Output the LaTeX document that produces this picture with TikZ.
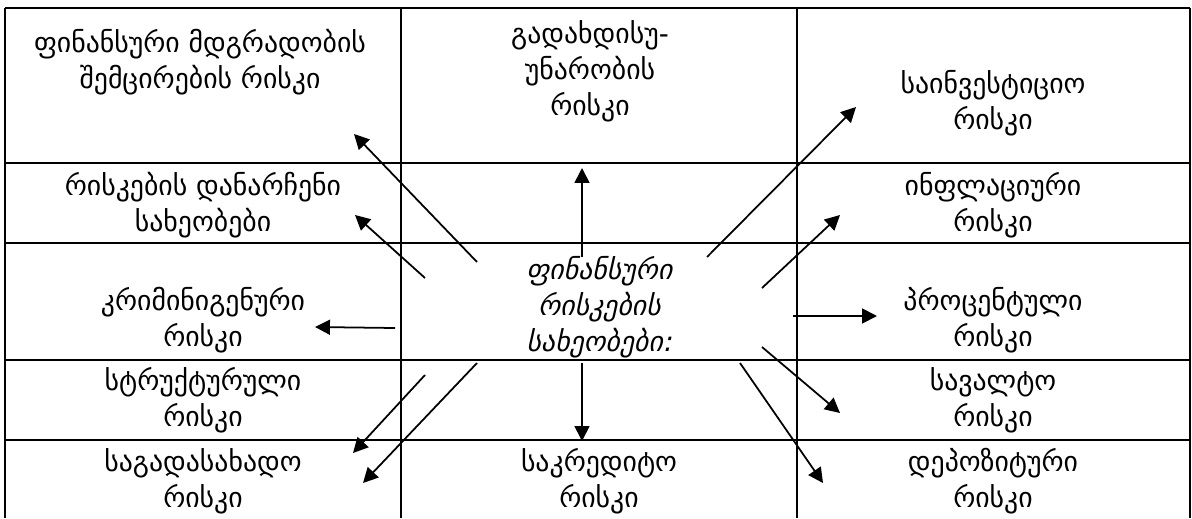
\documentclass[tikz,border=0pt]{standalone}
\usepackage{fontspec}
\setmainfont{DejaVu Sans}
\newfontfamily\geoslant[FakeSlant=0.22]{DejaVu Sans}
\usetikzlibrary{arrows.meta, positioning}
\tikzset{
  cell/.style={align=center, inner sep=0pt, font=\fontsize{15.8}{20.5}\selectfont},
  hub/.style={align=center, inner sep=0pt, font=\geoslant\fontsize{15.8}{20.5}\selectfont},
  rule/.style={line width=1.5pt},
  arrow/.style={line width=1pt, -{Triangle[length=8.5pt, width=8.5pt]}}
}

\begin{document}
\begin{tikzpicture}[x=0.02cm, y=-0.02cm]
  \useasboundingbox (0,0) rectangle (1192,518);

  % table
  \foreach \x in {5, 401, 797, 1190}
    \draw [rule] (\x,8) -- (\x,518);
  \foreach \y in {8, 163, 243, 360, 440}
    \draw [rule] (5,\y) -- (1190,\y);

  % cells
  \node (stab) [cell] at (200,62) {ფინანსური მდგრადობის\\შემცირების რისკი};
  \node (liq) [cell] at (590,71) {გადახდისუ-\\უნარობის\\რისკი};
  \node (inv) [cell] at (993,103) {საინვესტიციო\\რისკი};
  \node (other) [cell] at (203,205) {რისკების დანარჩენი\\სახეობები};
  \node (infl) [cell] at (993,205) {ინფლაციური\\რისკი};
  \node (types) [hub] at (599,307) {ფინანსური\\რისკების\\სახეობები:};
  \node (crim) [cell] at (203,320) {კრიმინიგენური\\რისკი};
  \node (rate) [cell] at (993,320) {პროცენტული\\რისკი};
  \node (struct) [cell] at (203,400) {სტრუქტურული\\რისკი};
  \node (curr) [cell] at (993,400) {სავალტო\\რისკი};
  \node (tax) [cell] at (203,481) {საგადასახადო\\რისკი};
  \node (cred) [cell] at (599,481) {საკრედიტო\\რისკი};
  \node (dep) [cell] at (993,481) {დეპოზიტური\\რისკი};

  % arrow ends
  \coordinate (stab-s) at (477,262);   \coordinate (stab-t) at (354,134);
  \coordinate (other-s) at (425,278);  \coordinate (other-t) at (355,215);
  \coordinate (liq-s) at (582,257);    \coordinate (liq-t) at (582,168);
  \coordinate (inv-s) at (707,257);    \coordinate (inv-t) at (856,107);
  \coordinate (infl-s) at (762,288);   \coordinate (infl-t) at (840,215);
  \coordinate (rate-s) at (793,316);   \coordinate (rate-t) at (877,316);
  \coordinate (curr-s) at (762,347);   \coordinate (curr-t) at (840,413);
  \coordinate (dep-s) at (740,363);    \coordinate (dep-t) at (823,483);
  \coordinate (cred-s) at (582,363);   \coordinate (cred-t) at (582,441);
  \coordinate (crim-s) at (395,328);   \coordinate (crim-t) at (315,327);
  \coordinate (struct-s) at (425,375); \coordinate (struct-t) at (353,453);
  \coordinate (tax-s) at (477,363);    \coordinate (tax-t) at (363,483);

  \foreach \n in {stab, other, liq, inv, infl, rate, curr, dep, cred, crim, struct, tax}
    \draw [arrow] (\n-s) -- (\n-t);

\end{tikzpicture}
\end{document}
